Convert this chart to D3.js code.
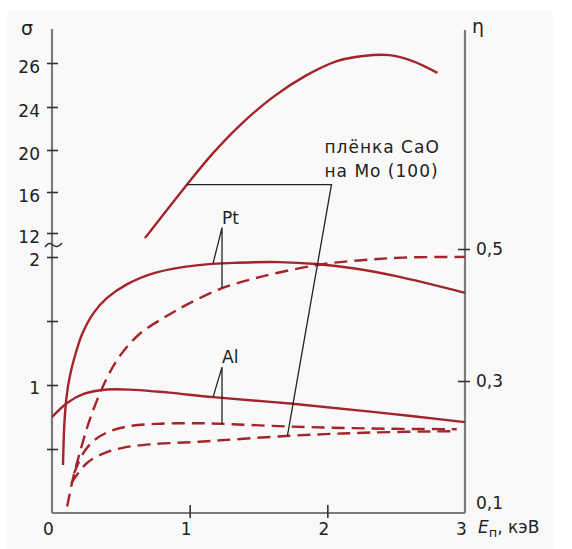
<!DOCTYPE html>
<html>
<head>
<meta charset="utf-8">
<script src="https://cdn.jsdelivr.net/npm/d3@7"></script>
<style>
  body { margin: 0; background: #fff; }
  text { font-family: "DejaVu Sans", sans-serif; fill: #222; }
</style>
</head>
<body>
<svg id="chart" width="572" height="549"></svg>
<script>
// Axis ticks
const energyTicks = [0, 1, 2, 3];
const sigmaTopTicks = [12, 16, 20, 24, 26];
const sigmaLowTicks = [0.5, 1, 1.5, 2];
const etaTicks = [0.1, 0.3, 0.5];

// [E (keV), value]
const caoSigma = [[0.675, 11.5], [0.98, 16.7], [1.17, 19.7], [1.365, 22.3], [1.605, 24.45], [1.85, 25.45],
  [2.07, 26.09], [2.26, 26.32], [2.45, 26.36], [2.62, 26.09], [2.8, 25.55]];
const ptSigma = [[0.08, 0.375], [0.09, 0.7], [0.105, 0.9], [0.13, 1.07], [0.17, 1.24], [0.22, 1.4],
  [0.3, 1.56], [0.4, 1.68], [0.55, 1.79], [0.76, 1.88], [1.05, 1.935], [1.35, 1.955], [1.65, 1.96],
  [1.92, 1.945], [2.2, 1.91], [2.5, 1.85], [3.0, 1.72]];
const alSigma = [[0, 0.75], [0.11, 0.86], [0.23, 0.93], [0.4, 0.965], [0.6, 0.962], [0.85, 0.94],
  [1.17, 0.905], [1.73, 0.855], [2.33, 0.79], [3.0, 0.71]];
const ptEta = [[0.11, 0.11], [0.15, 0.15], [0.2, 0.19], [0.28, 0.245], [0.4, 0.305],
  [0.5, 0.34], [0.64, 0.372], [0.83, 0.398], [1.0, 0.418], [1.24, 0.441], [1.5, 0.457],
  [1.8, 0.471], [2.0, 0.478], [2.25, 0.483], [2.55, 0.487], [3.0, 0.488]];
const alEta = [[0.16, 0.16], [0.225, 0.19], [0.3, 0.209], [0.4, 0.222], [0.545, 0.231], [0.76, 0.235],
  [1.07, 0.236], [1.24, 0.235], [1.73, 0.231], [2.33, 0.228], [2.94, 0.227]];
const caoEta = [[0.14, 0.145], [0.25, 0.175], [0.385, 0.191], [0.52, 0.199], [0.71, 0.204], [1.07, 0.208],
  [1.73, 0.217], [2.33, 0.222], [2.94, 0.224]];

const svg = d3.select("#chart");
const red = "#a3242a";
const axisGray = "#7b7b7b";

// panel
svg.append("rect").attr("x", 7).attr("y", 11).attr("width", 546).attr("height", 538).attr("fill", "#f9f9f9");

// scales (upper sigma scale is broken / non-uniform)
const x = d3.scaleLinear().domain([0, 3]).range([52, 465]);
const sigTop = d3.scaleLinear().domain(sigmaTopTicks).range([233, 192, 150, 107, 63]);
const sigLow = d3.scaleLinear().domain([0, 2]).range([513, 257]);
const eta = d3.scaleLinear().domain([0.1, 0.5]).range([513, 249]);

const comma = (d) => String(d).replace(".", ",");

// axis lines
svg.append("line").attr("x1", x(0)).attr("x2", x(0)).attr("y1", 29).attr("y2", sigLow(0))
  .attr("stroke", axisGray).attr("stroke-width", 2.2);
svg.append("line").attr("x1", x(3)).attr("x2", x(3)).attr("y1", 30).attr("y2", sigLow(0))
  .attr("stroke", axisGray).attr("stroke-width", 2.2);
svg.append("line").attr("x1", x(0)).attr("x2", x(3)).attr("y1", sigLow(0)).attr("y2", sigLow(0))
  .attr("stroke", axisGray).attr("stroke-width", 2.2);

function styleAxis(g, x1, x2, y1, y2) {
  g.select(".domain").remove();
  g.selectAll(".tick line").attr("x1", x1).attr("x2", x2).attr("y1", y1).attr("y2", y2)
    .attr("stroke", "#333").attr("stroke-width", 1.6);
  g.selectAll(".tick text").style("font-family", "DejaVu Sans").style("font-size", "17px").attr("fill", "#222");
}

// left axis, upper part
svg.append("g").attr("transform", `translate(${x(0)},0)`)
  .call(d3.axisLeft(sigTop).tickValues(sigmaTopTicks).tickSize(0).tickPadding(12))
  .call((g) => styleAxis(g, -5, 6, 0, 0))
  .call((g) => g.selectAll(".tick text").attr("dy", "0.55em"));

// left axis, lower part
svg.append("g").attr("transform", `translate(${x(0)},0)`)
  .call(d3.axisLeft(sigLow).tickValues(sigmaLowTicks).tickSize(0).tickPadding(12)
    .tickFormat((d) => (Number.isInteger(d) ? d : "")))
  .call((g) => styleAxis(g, -5, 6, 0, 0))
  .call((g) => g.selectAll(".tick text").attr("dy", "0.5em"));

// right axis
svg.append("g").attr("transform", `translate(${x(3)},0)`)
  .call(d3.axisRight(eta).tickValues(etaTicks).tickSize(0).tickPadding(11).tickFormat(comma))
  .call((g) => styleAxis(g, -7, 5, 0, 0))
  .call((g) => g.selectAll(".tick").filter((d) => d === 0.1).select("line").remove())
  .call((g) => g.selectAll(".tick").filter((d) => d === 0.1).select("text").attr("y", -10));

// bottom axis
svg.append("g").attr("transform", `translate(0,${sigLow(0)})`)
  .call(d3.axisBottom(x).tickValues(energyTicks).tickSize(0).tickPadding(10).tickFormat(d3.format("d")))
  .call((g) => styleAxis(g, 0, 0, -8, 5))
  .call((g) => g.selectAll(".tick").filter((d) => d === 0 || d === 3).select("line").remove())
  .call((g) => g.selectAll(".tick text").attr("dx", -4));

// axis break mark on sigma axis
const yBreak = (sigTop(12) + sigLow(2)) / 2;
svg.append("path")
  .attr("d", `M${x(0) - 7},${yBreak + 2} q4,-6 8,-2 t9,-2`)
  .attr("fill", "none").attr("stroke", "#333").attr("stroke-width", 1.5);

// axis titles
svg.append("text").attr("x", 21).attr("y", 35).style("font-size", "19px").text("σ");
svg.append("text").attr("x", 472).attr("y", 33).style("font-size", "19px").text("η");
const xt = svg.append("text").attr("x", 478).attr("y", 533).style("font-size", "17px");
xt.append("tspan").style("font-style", "italic").text("E");
xt.append("tspan").attr("dy", 4).style("font-size", "13px").text("п");
xt.append("tspan").attr("dy", -4).text(", кэВ");

// curves
function drawCurve(data, yScale, dashed) {
  svg.append("path")
    .datum(data)
    .attr("fill", "none")
    .attr("stroke", red)
    .attr("stroke-width", 2.4)
    .attr("stroke-dasharray", dashed ? "13,7" : null)
    .attr("d", d3.line().x((d) => x(d[0])).y((d) => yScale(d[1])).curve(d3.curveCatmullRom.alpha(0.5)));
}
drawCurve(caoSigma, sigTop, false);
drawCurve(ptSigma, sigLow, false);
drawCurve(alSigma, sigLow, false);
drawCurve(ptEta, eta, true);
drawCurve(alEta, eta, true);
drawCurve(caoEta, eta, true);

// leader lines and labels
const leader = svg.append("g").attr("fill", "none").attr("stroke", "#222").attr("stroke-width", 1.3);

// CaO film: from sigma curve across, then down to its eta curve
const caoFrom = [x(0.98), sigTop(16.7)];
const caoCorner = [x(2.03), sigTop(16.7)];
const caoTo = [x(1.71), eta(0.217)];
leader.append("path").attr("d", d3.line()([caoFrom, caoCorner, caoTo]));
svg.append("text").attr("x", caoCorner[0] - 7).attr("y", caoCorner[1] - 32).style("font-size", "17px")
  .attr("letter-spacing", "1").text("плёнка CaO");
svg.append("text").attr("x", caoCorner[0] - 7).attr("y", caoCorner[1] - 8).style("font-size", "17px")
  .attr("letter-spacing", "1").text("на Mo (100)");

function metalLeader(name, eStart, sigStart, eApex, sigApex, etaEnd) {
  const a = [x(eStart), sigLow(sigStart)];
  const apex = [x(eApex), sigLow(sigApex)];
  const b = [x(eApex), eta(etaEnd)];
  leader.append("path").attr("d", d3.line()([a, apex, b]));
  svg.append("text").attr("x", apex[0]).attr("y", apex[1] - 4).style("font-size", "17px").text(name);
}
metalLeader("Pt", 1.17, 1.95, 1.235, 2.23, 0.441);
metalLeader("Al", 1.17, 0.905, 1.235, 1.14, 0.235);
</script>
</body>
</html>
